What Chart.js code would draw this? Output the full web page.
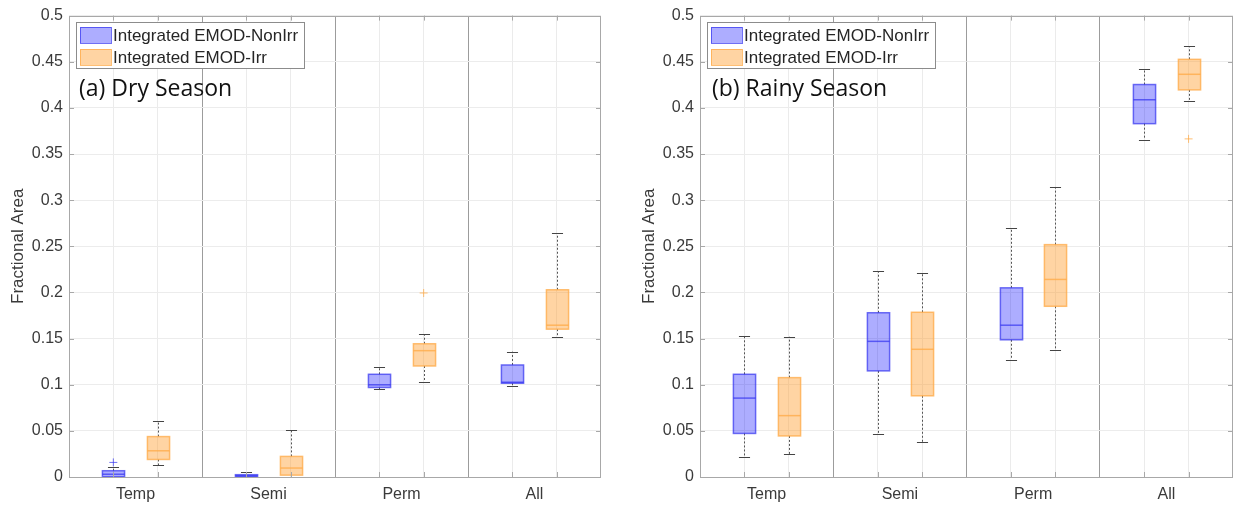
<!DOCTYPE html>
<html>
<head>
<meta charset="utf-8">
<script src="https://cdn.jsdelivr.net/npm/chart.js@4.4.1/dist/chart.umd.min.js"></script>
<style>
  html, body { margin: 0; padding: 0; background: #fff; }
  #wrap { position: relative; width: 1238px; height: 505px; overflow: hidden; }
  .panel { position: absolute; top: 0; height: 505px; }
  #p1 { left: 0; width: 610px; }
  #p2 { left: 631px; width: 607px; }
</style>
</head>
<body>
<div id="wrap">
  <div class="panel" id="p1"><canvas id="c1"></canvas></div>
  <div class="panel" id="p2"><canvas id="c2"></canvas></div>
</div>
<script>
// Land-cover classes and the two model runs
const categories = ['Temp', 'Semi', 'Perm', 'All'];
const seriesNames = ['Integrated EMOD-NonIrr', 'Integrated EMOD-Irr'];
const yTickValues = [0, 0.05, 0.1, 0.15, 0.2, 0.25, 0.3, 0.35, 0.4, 0.45, 0.5];

// Box statistics per class: [lower whisker, Q1, median, Q3, upper whisker]
const dryNonIrr = [
  [0.0,    0.0003, 0.003,  0.0068, 0.0108],
  [0.0,    0.0005, 0.0013, 0.0025, 0.005],
  [0.0952, 0.097,  0.0999, 0.1113, 0.1189],
  [0.0988, 0.1016, 0.1027, 0.1214, 0.1358]
];
const dryIrr = [
  [0.0126, 0.019,  0.0284, 0.0438, 0.0603],
  [0.0005, 0.002,  0.0097, 0.0223, 0.0506],
  [0.1034, 0.1203, 0.1369, 0.1444, 0.1545],
  [0.1516, 0.1602, 0.1645, 0.2029, 0.264]
];
const rainyNonIrr = [
  [0.022,  0.0472, 0.0855, 0.1113, 0.1533],
  [0.0468, 0.115,  0.147,  0.178,  0.223],
  [0.1271, 0.1487, 0.1645, 0.205,  0.2694],
  [0.3657, 0.3829, 0.4088, 0.4253, 0.4416]
];
const rainyIrr = [
  [0.0248, 0.0445, 0.0665, 0.1077, 0.152],
  [0.038,  0.088,  0.1384, 0.1785, 0.221],
  [0.1372, 0.185,  0.2141, 0.2518, 0.3143],
  [0.407,  0.4195, 0.4364, 0.4526, 0.467]
];

// Outliers: [class index, value]
const dryNonIrrOutliers = [[0, 0.0158]];
const dryIrrOutliers = [[2, 0.1994]];
const rainyNonIrrOutliers = [];
const rainyIrrOutliers = [[3, 0.3664]];

const FONT = "'Liberation Sans', Arial, sans-serif";
const FILLS = ['rgba(0,0,255,0.32)', 'rgba(255,160,50,0.45)'];
const EDGES = ['rgba(50,50,240,0.7)', 'rgba(255,170,70,0.75)'];

// Each class occupies three x units: box, box, separator
const boxX = (c, s) => c * 3 + 1 + s;
const xTickValues = [];
categories.forEach((_, c) => {
  xTickValues.push(c * 3 + 1, c * 3 + 1.5, c * 3 + 2);
  if (c < categories.length - 1) xTickValues.push(c * 3 + 3);
});
const isLabelTick = v => Math.abs((v % 3) - 1.5) < 1e-9;
const isDivider = v => Math.abs(v % 3) < 1e-9;

const boxPlugin = {
  id: 'boxes',
  beforeDatasetsDraw(chart, args, opts) {
    const { ctx } = chart;
    const x = chart.scales.x, y = chart.scales.y;
    const half = x.getPixelForValue(0.25) - x.getPixelForValue(0);
    const capHalf = half / 2;
    opts.series.forEach((stats, s) => {
      stats.forEach((st, c) => {
        const [mn, q1, md, q3, mx] = st;
        const xc = Math.round(x.getPixelForValue(boxX(c, s))) + 0.5;
        const pMn = y.getPixelForValue(mn), pQ1 = y.getPixelForValue(q1);
        const pMd = y.getPixelForValue(md), pQ3 = y.getPixelForValue(q3);
        const pMx = y.getPixelForValue(mx);
        ctx.save();
        // whiskers
        ctx.strokeStyle = '#555';
        ctx.lineWidth = 1;
        ctx.setLineDash([2, 2]);
        ctx.beginPath();
        ctx.moveTo(xc, pQ3); ctx.lineTo(xc, pMx);
        ctx.moveTo(xc, pQ1); ctx.lineTo(xc, pMn);
        ctx.stroke();
        ctx.setLineDash([]);
        // caps
        ctx.strokeStyle = '#444';
        ctx.beginPath();
        ctx.moveTo(xc - capHalf, Math.round(pMx) + 0.5); ctx.lineTo(xc + capHalf, Math.round(pMx) + 0.5);
        ctx.moveTo(xc - capHalf, Math.round(pMn) + 0.5); ctx.lineTo(xc + capHalf, Math.round(pMn) + 0.5);
        ctx.stroke();
        // box
        ctx.fillStyle = FILLS[s];
        ctx.fillRect(xc - half, pQ3, half * 2, pQ1 - pQ3);
        ctx.strokeStyle = EDGES[s];
        ctx.lineWidth = 1.5;
        ctx.strokeRect(xc - half, pQ3, half * 2, pQ1 - pQ3);
        // median
        ctx.beginPath();
        ctx.moveTo(xc - half, pMd); ctx.lineTo(xc + half, pMd);
        ctx.stroke();
        ctx.restore();
      });
    });
  },
  afterDraw(chart, args, opts) {
    const { ctx, chartArea: a } = chart;
    const x = chart.scales.x, y = chart.scales.y;
    ctx.save();
    // frame
    ctx.strokeStyle = '#a8a8a8';
    ctx.lineWidth = 1;
    ctx.strokeRect(Math.round(a.left) + 0.5, Math.round(a.top) + 0.5,
                   Math.round(a.right - a.left) - 1, Math.round(a.bottom - a.top));
    // inward tick marks
    const tl = 5;
    ctx.beginPath();
    yTickValues.forEach(v => {
      const py = Math.round(y.getPixelForValue(v)) + 0.5;
      ctx.moveTo(a.left, py); ctx.lineTo(a.left + tl, py);
      ctx.moveTo(a.right, py); ctx.lineTo(a.right - tl, py);
    });
    xTickValues.forEach(v => {
      if (isLabelTick(v) || isDivider(v)) return;
      const px = Math.round(x.getPixelForValue(v)) + 0.5;
      ctx.moveTo(px, a.bottom); ctx.lineTo(px, a.bottom - tl);
      ctx.moveTo(px, a.top); ctx.lineTo(px, a.top + tl);
    });
    ctx.stroke();

    // legend
    const L = Math.round(a.left) + 7, T = Math.round(a.top) + 6;
    ctx.fillStyle = '#fff';
    ctx.fillRect(L, T, 228, 46);
    ctx.strokeStyle = '#8c8c8c';
    ctx.strokeRect(L + 0.5, T + 0.5, 228, 46);
    ctx.font = '17px ' + FONT;
    ctx.textBaseline = 'middle';
    ctx.textAlign = 'left';
    seriesNames.forEach((name, s) => {
      const sy = T + 5 + s * 22;
      ctx.fillStyle = FILLS[s];
      ctx.fillRect(L + 4, sy, 31, 16);
      ctx.strokeStyle = EDGES[s];
      ctx.lineWidth = 1;
      ctx.strokeRect(L + 4.5, sy + 0.5, 31, 16);
      ctx.fillStyle = '#262626';
      ctx.fillText(name, L + 37, sy + 9);
    });

    // panel title
    ctx.font = "23px 'Open Sans', sans-serif";
    ctx.fillStyle = '#111';
    ctx.textBaseline = 'alphabetic';
    ctx.fillText(opts.title, a.left + opts.titleOffset, 96);
    ctx.restore();
  }
};

function makeChart(id, series, outliers, title, rightPad, titleOffset) {
  const datasets = series.map((_, s) => ({
    label: seriesNames[s],
    data: outliers[s].map(([c, v]) => ({ x: boxX(c, s), y: v })),
    pointStyle: 'cross',
    pointRadius: 4,
    pointBorderWidth: 1,
    borderColor: EDGES[s],
    backgroundColor: EDGES[s],
    showLine: false
  }));
  return new Chart(document.getElementById(id), {
    type: 'scatter',
    data: { datasets },
    plugins: [boxPlugin],
    options: {
      responsive: true,
      maintainAspectRatio: false,
      devicePixelRatio: 1,
      animation: false,
      layout: { padding: { top: 12, right: rightPad, left: 0, bottom: 0 } },
      plugins: {
        legend: { display: false },
        tooltip: { enabled: false },
        boxes: { series, title, titleOffset }
      },
      scales: {
        x: {
          type: 'linear',
          min: 0,
          max: 12,
          afterBuildTicks: s => { s.ticks = xTickValues.map(v => ({ value: v })); },
          afterFit: s => { s.height = 28; },
          border: { display: false },
          grid: {
            drawTicks: false,
            lineWidth: 1,
            color: c => {
              const v = c.tick ? c.tick.value : 0;
              if (isLabelTick(v)) return 'rgba(0,0,0,0)';
              return isDivider(v) ? '#9c9c9c' : '#ebebeb';
            }
          },
          ticks: {
            autoSkip: false,
            maxRotation: 0,
            padding: 8,
            color: '#3a3a3a',
            font: { family: FONT, size: 16 },
            callback: v => isLabelTick(v) ? categories[Math.floor(v / 3)] : ''
          }
        },
        y: {
          min: 0,
          max: 0.5,
          afterBuildTicks: s => { s.ticks = yTickValues.map(v => ({ value: v })); },
          afterFit: s => { s.width = 69; },
          border: { display: false },
          grid: { drawTicks: false, color: '#ececec', lineWidth: 1 },
          ticks: {
            padding: 6,
            color: '#3a3a3a',
            font: { family: FONT, size: 16 },
            callback: v => String(+v.toFixed(2))
          },
          title: {
            display: true,
            text: 'Fractional Area',
            color: '#3a3a3a',
            font: { family: FONT, size: 17 },
            padding: { top: 8, bottom: 0 }
          }
        }
      }
    }
  });
}

makeChart('c1', [dryNonIrr, dryIrr], [dryNonIrrOutliers, dryIrrOutliers], '(a) Dry Season', 9, 10);
makeChart('c2', [rainyNonIrr, rainyIrr], [rainyNonIrrOutliers, rainyIrrOutliers], '(b) Rainy Season', 5, 12);
</script>
</body>
</html>
